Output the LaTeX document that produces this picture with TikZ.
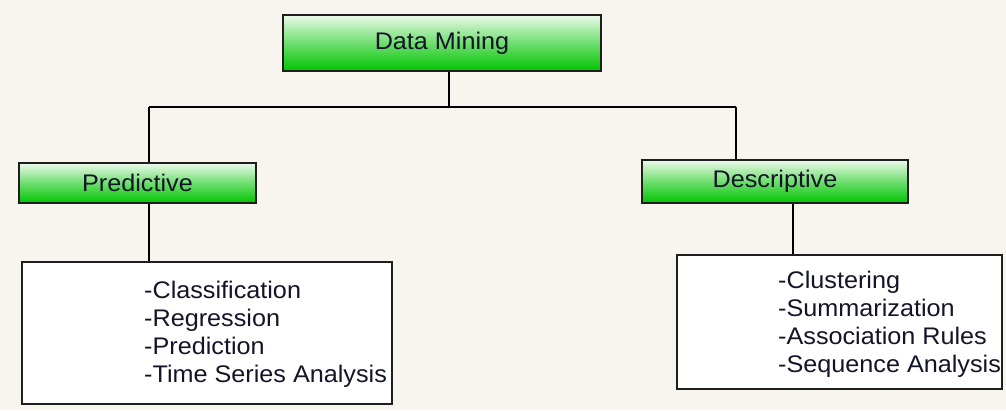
\documentclass[tikz,border=0pt]{standalone}
\usepackage{fontspec}
\setmainfont{Liberation Sans}[FakeStretch=1.05]
\definecolor{bg}{RGB}{248,245,239}
\definecolor{gtop}{RGB}{236,250,236}
\definecolor{gmid}{RGB}{110,222,110}
\definecolor{gbot}{RGB}{0,196,0}
\definecolor{edge}{RGB}{30,30,30}
\definecolor{txt}{RGB}{20,20,40}
\tikzset{
  greenbox/.style={draw=edge, line width=1.5pt, rectangle, top color=gtop, bottom color=gbot, middle color=gmid, inner sep=0pt, text=txt, font=\fontsize{24}{28}\selectfont},
  listbox/.style={draw=edge, line width=1.5pt, rectangle, fill=white, inner sep=0pt},
  listtext/.style={anchor=west, align=left, inner sep=0pt, text=txt, font=\fontsize{24}{28}\selectfont},
  conn/.style={draw=black, line width=1.5pt}
}
\begin{document}
\begin{tikzpicture}[x=1pt,y=-1pt]
\useasboundingbox[fill=bg] (0,0) rectangle (1006,410);
\node[greenbox, minimum width=318pt, minimum height=56pt] (dm) at (442,43) {\raisebox{-1pt}{Data Mining}};
\node[greenbox, minimum width=237pt, minimum height=40pt] (pred) at (137.5,183) {\raisebox{-1pt}{Predictive}};
\node[greenbox, minimum width=266pt, minimum height=43pt] (desc) at (775,181.5) {Descriptive};
\node[listbox, minimum width=370pt, minimum height=142pt] (plist) at (207,333) {};
\node[listbox, minimum width=325pt, minimum height=134pt] (dlist) at (839.5,322) {};
\node[listtext] (ptext) at (144,334) {-Classification\\-Regression\\-Prediction\\-Time Series Analysis};
\node[listtext] (dtext) at (778,324) {-Clustering\\-Summarization\\-Association Rules\\-Sequence Analysis};
\coordinate (jm) at (449,107);
\coordinate (jl) at (149,107);
\coordinate (jr) at (736,107);
\coordinate (kr) at (793,220);
\draw[conn] (dm.south -| jm) -- (jm);
\draw[conn] (jl) -- (jr);
\draw[conn] (jl) -- (pred.north -| jl);
\draw[conn] (jr) -- (desc.north -| jr);
\draw[conn] (pred.south -| jl) -- (plist.north -| jl);
\draw[conn] (desc.south -| kr) -- (dlist.north -| kr);
\end{tikzpicture}
\end{document}
